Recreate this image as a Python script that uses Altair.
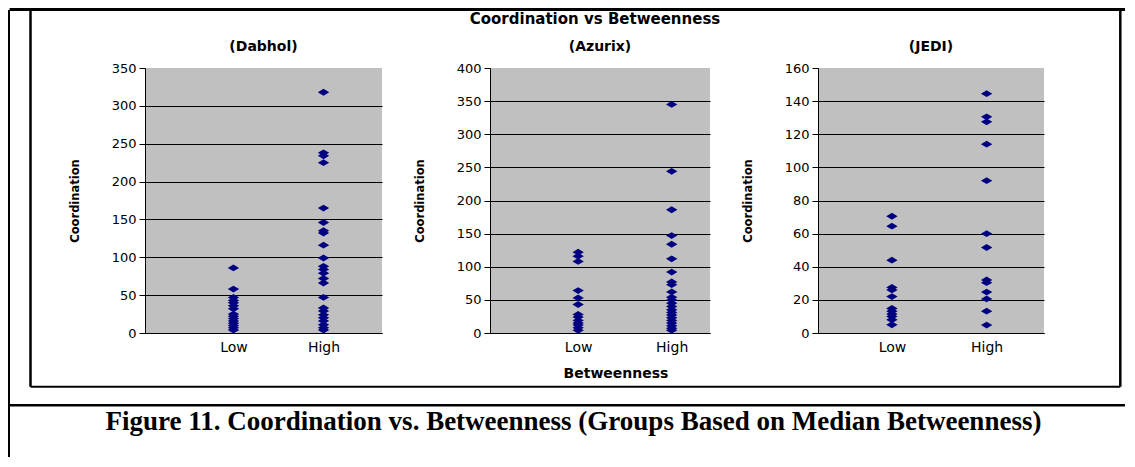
import altair as alt
import pandas as pd

# ---------------- data ----------------
GROUPS = ["Low", "High"]
PANEL_TITLES = ["(Dabhol)", "(Azurix)", "(JEDI)"]
MAIN_TITLE = "Coordination vs Betweenness"
Y_TITLE = "Coordination"
X_TITLE = "Betweenness"
CAPTION = "Figure 11. Coordination vs. Betweenness (Groups Based on Median Betweenness)"

DABHOL_LOW = [86, 58, 47, 43, 40, 36, 32, 25, 22, 19, 16, 13, 10, 7, 4]
DABHOL_HIGH = [318, 238, 234, 225, 165, 146, 135, 132, 116, 99, 88, 84, 79, 72, 66,
               47, 33, 29, 24, 20, 16, 11, 7, 4]
AZURIX_LOW = [122, 116, 108, 64, 53, 43, 28, 24, 19, 15, 12, 8, 4]
AZURIX_HIGH = [345, 244, 186, 147, 134, 112, 92, 77, 73, 62, 54, 50, 45, 40, 35, 31,
               27, 23, 19, 15, 11, 7, 4]
JEDI_LOW = [70.5, 64.5, 44, 27.5, 26, 22, 14.8, 13.2, 11.5, 10, 8, 5]
JEDI_HIGH = [144.5, 130.5, 127.5, 114, 92, 60, 51.6, 32, 30.4, 24.7, 20.6, 13.2, 4.8]

Y_TICKS_DABHOL = [0, 50, 100, 150, 200, 250, 300, 350]
Y_TICKS_AZURIX = [0, 50, 100, 150, 200, 250, 300, 350, 400]
Y_TICKS_JEDI = [0, 20, 40, 60, 80, 100, 120, 140, 160]

# ---------------- styling ----------------
H = 265
W1, W2, W3 = 237, 220, 226
SPACING = 108
DIAMOND = "M-1,0L0,-0.6L1,0L0,0.6Z"
NAVY = "#000080"
SANS = "DejaVu Sans"
SERIF = "Liberation Serif"


def panel_df(low, high):
    return pd.DataFrame({
        "group": [GROUPS[0]] * len(low) + [GROUPS[1]] * len(high),
        "value": low + high,
    })


def one(text):
    return pd.DataFrame({"t": [text]})


def make_panel(title, low, high, yticks, width, pad, align, extra=None):
    ymax = yticks[-1]
    pts = alt.Chart(panel_df(low, high)).mark_point(
        shape=DIAMOND, filled=True, size=130, color=NAVY, opacity=1, strokeWidth=0
    ).encode(
        x=alt.X("group:N", sort=GROUPS,
                scale=alt.Scale(type="point", domain=GROUPS, padding=pad, align=align),
                axis=alt.Axis(title=None, labelAngle=0, ticks=False, tickSize=0,
                              labelPadding=18, labelBaseline="alphabetic",
                              labelFont=SANS, labelFontSize=14, labelColor="black",
                              domainColor="black", domainWidth=1, grid=False)),
        y=alt.Y("value:Q",
                scale=alt.Scale(domain=[0, ymax], nice=False, zero=True),
                axis=alt.Axis(values=yticks, title=Y_TITLE, format="d",
                              titleX=-70, titleY=H / 2, titleAngle=270,
                              titleAlign="center", titleBaseline="middle",
                              titleFont=SANS, titleFontSize=11.5, titleFontWeight="bold",
                              titleColor="black",
                              labelFont=SANS, labelFontSize=13, labelColor="black",
                              labelPadding=3, tickSize=6, tickColor="black",
                              domainColor="black", domainWidth=1,
                              grid=True, gridColor="black", gridWidth=1,
                              gridOpacity={"condition": {"test": f"datum.value >= {ymax}",
                                                         "value": 0}, "value": 1})),
    )
    sub = alt.Chart(one(title)).mark_text(
        font=SANS, fontSize=14, fontWeight="bold", color="black",
        align="center", baseline="alphabetic"
    ).encode(x=alt.value(width / 2), y=alt.value(-17), text="t:N")
    layers = [pts, sub] + (extra or [])
    return alt.layer(*layers).properties(width=width, height=H)


# decorations (frame lines and free texts), positioned relative to panel 1 plot
def rule(x, x2, y, y2, sw):
    return alt.Chart(one("")).mark_rule(color="black", strokeWidth=sw).encode(
        x=alt.value(x), x2=alt.value(x2), y=alt.value(y), y2=alt.value(y2))


def text(t, x, y, font, size):
    return alt.Chart(one(t)).mark_text(
        font=font, fontSize=size, fontWeight="bold", color="black",
        align="center", baseline="alphabetic"
    ).encode(x=alt.value(x), y=alt.value(y), text="t:N")


frame = [
    rule(-136, -136, -58, 389, 2),          # outer left line
    rule(-135.5, 980, -58.5, -58.5, 3),     # top line
    rule(-114.5, -114.5, -58, 318.7, 2.5),  # chart box left
    rule(-114.5, 975.3, 318.7, 318.7, 2),   # chart box bottom
    rule(975.3, 975.3, -58, 318.7, 2.5),    # chart box right
    rule(-135.5, 980, 337.2, 337.2, 2.5),   # divider above caption
    text(MAIN_TITLE, 450, -44, SANS, 15),
    text(X_TITLE, 471, 310, SANS, 14),
    text(CAPTION, 428.5, 362, SERIF, 27),
]

p1 = make_panel(PANEL_TITLES[0], DABHOL_LOW, DABHOL_HIGH, Y_TICKS_DABHOL, W1, 0.816, 0.602, frame)
p2 = make_panel(PANEL_TITLES[1], AZURIX_LOW, AZURIX_HIGH, Y_TICKS_AZURIX, W2, 0.676, 0.697)
p3 = make_panel(PANEL_TITLES[2], JEDI_LOW, JEDI_HIGH, Y_TICKS_JEDI, W3, 0.693, 0.563)

chart = alt.hconcat(p1, p2, p3, spacing=SPACING, bounds="flush").properties(
    padding=0, background="white"
).configure_view(fill="#C0C0C0", strokeWidth=0)

chart.save("out.html", embed_options={"renderer": "svg", "actions": False})
